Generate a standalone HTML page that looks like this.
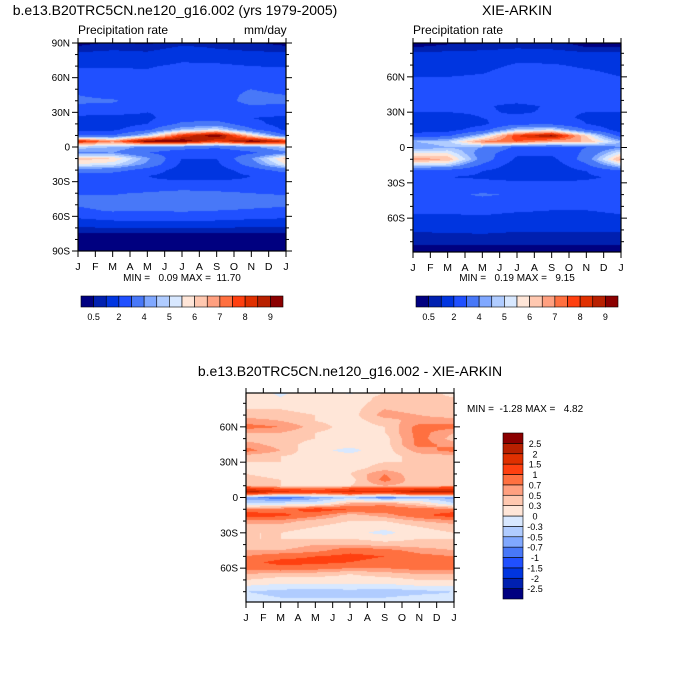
<!DOCTYPE html>
<html><head><meta charset="utf-8">
<style>
body{margin:0;background:#fff;}
#root{position:relative;width:700px;height:700px;overflow:hidden;font-family:"Liberation Sans",sans-serif;color:#000;}
.t{position:absolute;white-space:nowrap;}
canvas{position:absolute;}
svg{position:absolute;left:0;top:0;}
</style></head>
<body>
<div id="root">
<div class="t" style="left:0;width:350px;text-align:center;top:2px;font-size:14px;">b.e13.B20TRC5CN.ne120_g16.002 (yrs 1979-2005)</div>
<div class="t" style="left:78px;top:23px;font-size:12px;">Precipitation rate</div>
<div class="t" style="left:244px;top:23px;font-size:12px;">mm/day</div>
<div class="t" style="left:417px;width:200px;text-align:center;top:2px;font-size:14px;">XIE-ARKIN</div>
<div class="t" style="left:413px;top:23px;font-size:12px;">Precipitation rate</div>
<div class="t" style="left:82px;width:200px;text-align:center;top:273px;font-size:10px;">MIN =&nbsp;&nbsp; 0.09 MAX =&nbsp; 11.70</div>
<div class="t" style="left:417px;width:200px;text-align:center;top:273px;font-size:10px;">MIN =&nbsp;&nbsp; 0.19 MAX =&nbsp;&nbsp; 9.15</div>
<div class="t" style="left:150px;width:400px;text-align:center;top:363px;font-size:14px;">b.e13.B20TRC5CN.ne120_g16.002 - XIE-ARKIN</div>
<div class="t" style="left:467px;top:404px;font-size:10px;">MIN =&nbsp; -1.28 MAX =&nbsp;&nbsp; 4.82</div>
<canvas id="c1" width="208" height="208" style="left:78px;top:43px;"></canvas>
<canvas id="c2" width="208" height="209" style="left:413px;top:43px;"></canvas>
<canvas id="c3" width="208" height="209" style="left:246px;top:393px;"></canvas>
<svg id="ov" width="700" height="700"></svg>
</div>
<script>
// data grids: rows 90N..90S step 5deg; columns Jan, Mar, May, Jul, Sep, Nov, Jan
const months = ['J','F','M','A','M','J','J','A','S','O','N','D','J'];
const colTimes = [0,2,4,6,8,10,12];
const rowLats = [90,85,80,75,70,65,60,55,50,45,40,35,30,25,20,15,10,5,0,-5,-10,-15,-20,-25,-30,-35,-40,-45,-50,-55,-60,-65,-70,-75,-80,-85,-90];
const precipLevels = [0.5,1,2,3,4,4.5,5,5.5,6,6.5,7,7.5,8,8.5,9];
const precipLabels = ['0.5','2','4','5','6','7','8','9'];
const diffLevels = [-2.5,-2,-1.5,-1,-0.7,-0.5,-0.3,0,0.3,0.5,0.7,1,1.5,2,2.5];
const diffLabels = ['-2.5','-2','-1.5','-1','-0.7','-0.5','-0.3','0','0.3','0.5','0.7','1','1.5','2','2.5'];
const palette = ['#000080','#0020b0','#0035e0','#2050ff','#4878f8','#80a8ff','#b0ccff','#d8e8ff','#ffe6d8','#ffc8b0','#ffa080','#ff7040','#ff4010','#e03000','#b82000','#8b0000'];
const modelPrecip = [
[0.3,0.6,0.4,0.8,0.8,0.6,0.3],[0.7,0.9,0.8,1.2,1.0,0.8,0.7],[1.2,1.3,1.2,1.6,1.5,1.3,1.2],[1.5,1.6,1.5,1.9,1.8,1.6,1.5],
[1.9,1.9,1.9,2.2,2.2,2.0,1.9],[2.3,2.2,2.1,2.5,2.5,2.4,2.3],[2.5,2.4,2.3,2.6,2.8,2.7,2.5],[2.6,2.5,2.4,2.7,2.8,2.9,2.6],
[2.7,2.5,2.3,2.5,2.7,3.0,2.7],[3.0,2.7,2.4,2.3,2.6,3.2,3.0],[3.2,3.1,2.6,2.2,2.6,3.3,3.2],[2.8,2.8,2.5,2.2,2.5,2.9,2.8],
[2.3,2.3,2.0,2.3,2.4,2.4,2.3],[1.8,1.6,1.8,2.6,2.5,2.0,1.8],[1.6,1.5,2.0,3.2,3.5,2.3,1.6],[1.8,1.8,2.8,4.6,5.2,3.2,1.8],
[3.0,3.0,4.8,8.0,9.5,6.0,3.0],[8.5,7.0,9.5,9.5,8.0,9.5,8.5],[4.8,4.5,3.8,3.5,3.2,3.8,4.8],[3.8,4.0,3.0,2.4,2.2,2.8,3.8],
[6.2,6.0,4.2,2.0,2.0,4.0,6.2],[5.5,5.2,3.8,1.8,1.8,3.5,5.5],[3.5,3.5,2.5,1.6,1.6,2.4,3.5],[2.3,2.3,2.0,1.7,1.7,2.0,2.3],
[2.2,2.2,2.1,2.1,2.1,2.1,2.2],[2.5,2.4,2.5,2.6,2.6,2.5,2.5],[2.9,2.9,3.1,3.4,3.2,3.0,2.9],[3.2,3.2,3.4,3.8,3.5,3.3,3.2],
[3.1,3.3,3.4,3.5,3.4,3.2,3.1],[2.8,3.1,3.0,3.1,3.0,2.9,2.8],[2.2,2.5,2.6,2.6,2.5,2.3,2.2],[1.6,1.8,1.9,1.9,1.8,1.7,1.6],
[0.9,1.0,1.0,1.0,1.0,0.9,0.9],[0.4,0.4,0.4,0.4,0.4,0.4,0.4],[0.3,0.3,0.3,0.3,0.3,0.3,0.3],[0.3,0.3,0.3,0.3,0.3,0.3,0.3],[0.3,0.3,0.3,0.3,0.3,0.3,0.3]];
const obsPrecip = [
[0.3,0.4,0.4,0.6,0.5,0.3,0.3],[0.5,0.6,0.7,0.9,0.8,0.5,0.5],[1.1,1.2,1.3,1.5,1.4,1.1,1.1],[1.4,1.4,1.5,1.8,1.7,1.5,1.4],
[1.6,1.6,1.7,2.1,2.1,1.8,1.6],[1.8,1.8,1.9,2.3,2.4,2.1,1.8],[2.0,2.0,2.1,2.4,2.6,2.3,2.0],[2.2,2.2,2.2,2.5,2.6,2.5,2.2],
[2.4,2.3,2.2,2.5,2.6,2.6,2.4],[2.6,2.4,2.2,2.4,2.5,2.7,2.6],[2.5,2.3,2.2,2.2,2.4,2.6,2.5],[2.2,2.2,2.1,1.8,2.1,2.2,2.2],
[2.0,2.0,2.1,1.9,2.1,2.0,2.0],[1.6,1.7,2.0,2.2,2.2,1.9,1.6],[1.3,1.3,1.8,2.8,2.8,2.0,1.3],[1.5,1.6,2.6,4.8,5.2,3.0,1.5],
[2.5,2.8,4.8,8.0,9.2,6.0,2.5],[4.5,4.8,7.0,7.5,6.5,6.5,4.5],[4.0,4.5,4.0,2.8,2.6,3.0,4.0],[5.5,5.5,3.5,2.2,2.2,3.2,5.5],
[6.8,6.5,3.6,1.8,1.7,3.5,6.8],[5.0,4.8,2.8,1.5,1.4,2.8,5.0],[2.8,2.5,2.0,1.4,1.4,2.0,2.8],[2.1,2.0,1.9,1.6,1.7,1.9,2.1],
[2.2,2.2,2.2,2.2,2.1,2.1,2.2],[2.4,2.5,2.7,2.6,2.3,2.3,2.4],[2.6,2.8,3.1,2.9,2.5,2.5,2.6],[2.6,2.7,2.8,2.7,2.4,2.5,2.6],
[2.4,2.5,2.5,2.4,2.2,2.2,2.4],[2.1,2.1,2.1,2.0,1.9,1.9,2.1],[1.8,1.8,1.9,1.8,1.7,1.7,1.8],[1.5,1.5,1.6,1.5,1.4,1.4,1.5],
[1.1,1.2,1.2,1.1,1.1,1.1,1.1],[0.8,0.8,0.9,0.8,0.8,0.8,0.8],[0.6,0.6,0.6,0.6,0.6,0.6,0.6],[0.4,0.4,0.4,0.4,0.4,0.4,0.4],[0.3,0.3,0.3,0.3,0.3,0.3,0.3]];
const diffPrecip = [
[0.2,-0.1,0.2,-0.1,0.3,0.4,0.2],[0.3,0.0,0.3,0.1,0.4,0.4,0.3],[0.3,0.2,0.2,0.2,0.4,0.4,0.3],[0.3,0.3,0.2,0.2,0.5,0.4,0.3],
[0.4,0.4,0.3,0.2,0.6,0.5,0.4],[0.6,0.5,0.3,0.2,0.4,0.6,0.6],[0.8,0.7,0.4,0.2,0.3,0.8,0.8],[0.5,0.5,0.3,0.2,0.3,0.8,0.5],
[0.4,0.4,0.3,0.2,0.2,0.8,0.4],[0.6,0.4,0.2,0.1,0.2,0.8,0.6],[0.8,0.5,0.1,-0.1,0.2,0.6,0.8],[0.4,0.3,0.2,0.1,0.2,0.4,0.4],
[0.3,0.3,0.1,0.2,0.3,0.3,0.3],[0.3,0.2,0.1,0.2,0.4,0.3,0.3],[0.3,0.2,0.1,0.3,0.7,0.3,0.3],[0.4,0.3,0.2,0.2,0.8,0.3,0.4],
[0.5,0.3,0.2,0.3,0.5,0.4,0.5],[2.3,1.6,1.3,1.8,1.6,2.2,2.3],[-0.6,-0.9,-0.6,-0.4,-0.8,-0.5,-0.6],[-0.3,-0.2,-0.2,0.5,0.6,0.3,-0.3],
[0.8,0.8,1.2,1.0,0.9,0.8,0.8],[1.2,1.1,0.8,0.4,0.6,0.9,1.2],[0.6,0.6,0.4,0.3,0.3,0.5,0.6],[0.4,0.4,0.3,0.2,0.1,0.3,0.4],
[0.3,0.3,0.2,0.1,-0.1,0.2,0.3],[0.3,0.3,0.3,0.3,0.2,0.3,0.3],[0.4,0.4,0.5,0.5,0.4,0.4,0.4],[0.5,0.5,0.6,0.9,0.8,0.6,0.5],
[0.7,0.9,1.0,1.1,1.0,0.8,0.7],[0.9,1.1,1.1,1.0,0.9,0.9,0.9],[0.8,0.9,0.8,0.7,0.7,0.8,0.8],[0.5,0.4,0.4,0.3,0.4,0.5,0.5],
[0.3,0.2,0.2,0.2,0.2,0.3,0.3],[0.0,-0.1,-0.1,-0.1,-0.1,0.0,0.0],[-0.3,-0.4,-0.5,-0.4,-0.5,-0.4,-0.3],[-0.2,-0.3,-0.3,-0.3,-0.3,-0.2,-0.2],[-0.1,-0.1,-0.1,-0.1,-0.1,-0.1,-0.1]];

const NS='http://www.w3.org/2000/svg';
const ov=document.getElementById('ov');
function sample(grid,lat,t){
  let r=(90-lat)/5; r=Math.max(0,Math.min(rowLats.length-1.0001,r));
  let c=t/2; c=Math.max(0,Math.min(colTimes.length-1.0001,c));
  const r0=Math.floor(r),c0=Math.floor(c),fr=r-r0,fc=c-c0;
  const a=grid[r0][c0],b=grid[r0][c0+1],d=grid[r0+1][c0],e=grid[r0+1][c0+1];
  return (a*(1-fc)+b*fc)*(1-fr)+(d*(1-fc)+e*fc)*fr;
}
function levelIndex(v,levels){let i=0;while(i<levels.length&&v>=levels[i])i++;return i;}
function hex(h){return [parseInt(h.substr(1,2),16),parseInt(h.substr(3,2),16),parseInt(h.substr(5,2),16)];}
const pal=palette.map(hex);
function drawField(id,grid,levels,latTop){
  const cv=document.getElementById(id),ctx=cv.getContext('2d');
  const W=cv.width,H=cv.height,img=ctx.createImageData(W,H);
  for(let y=0;y<H;y++){
    const lat=latTop-(y+0.5)/H*2*latTop;
    for(let x=0;x<W;x++){
      const t=(x+0.5)/W*12;
      const col=pal[levelIndex(sample(grid,lat,t),levels)];
      const k=(y*W+x)*4;img.data[k]=col[0];img.data[k+1]=col[1];img.data[k+2]=col[2];img.data[k+3]=255;
    }
  }
  ctx.putImageData(img,0,0);
}
function el(tag,attrs,parent){const e=document.createElementNS(NS,tag);for(const k in attrs)e.setAttribute(k,attrs[k]);(parent||ov).appendChild(e);return e;}
function txt(s,x,y,anchor,size,name){
  const e=el('text',{x:x,y:y,'text-anchor':anchor,'font-size':size,'font-family':'Liberation Sans, sans-serif'});
  e.textContent=s;
  
  
  return e;
}
function axes(px,py,w,h,latTop,latLabels,prefix){
  const g=el('g',{});
  
  
  const yOf=lat=>py+(latTop-lat)/(2*latTop)*h;
  el('rect',{x:px,y:py,width:w,height:h,fill:'none',stroke:'#000','stroke-width':1.2},g);
  for(let i=0;i<months.length;i++){
    const x=px+i*w/12;
    el('line',{x1:x,y1:py+h,x2:x,y2:py+h+6,stroke:'#000'},g);
    el('line',{x1:x,y1:py,x2:x,y2:py-5,stroke:'#000'},g);
    txt(months[i],x,py+h+19,'middle',10.5,prefix+'-month-label');
  }
  for(let lat=-90;lat<=90;lat+=10){
    if(Math.abs(lat)>latTop+0.01)continue;
    const y=yOf(lat),major=lat%30===0;
    const L=major?6:3;
    el('line',{x1:px-L,y1:y,x2:px,y2:y,stroke:'#000'},g);
    el('line',{x1:px+w,y1:y,x2:px+w+L,y2:y,stroke:'#000'},g);
  }
  latLabels.forEach(function(s){
    const v=s==='0'?0:(parseInt(s)*(s.endsWith('S')?-1:1));
    txt(s,px-8,yOf(v)+3.5,'end',10,prefix+'-lat-label');
  });
}
drawField('c1',modelPrecip,precipLevels,90);
drawField('c2',obsPrecip,precipLevels,88.75);
drawField('c3',diffPrecip,diffLevels,88.75);
axes(78,43,208,208,90,['90N','60N','30N','0','30S','60S','90S'],'model');
axes(413,43,208,209,88.75,['60N','30N','0','30S','60S'],'obs');
axes(246,393,208,209,88.75,['60N','30N','0','30S','60S'],'diff');

function hbar(x0,x1,y0,y1,prefix){
  const n=palette.length,bw=(x1-x0)/n;
  for(let i=0;i<n;i++){
    const r=el('rect',{x:x0+i*bw,y:y0,width:bw,height:y1-y0,fill:palette[i],stroke:'#000','stroke-width':0.6});
    
    
  }
  precipLabels.forEach(function(s,j){
    txt(s,x0+(2*j+1)*bw,y1+13,'middle',9,prefix+'-colorbar-label');
  });
}
hbar(81,283,296,307,'model');
hbar(416,618,296,307,'obs');
(function(){
  const x0=503,x1=523,y0=433,y1=599,n=palette.length,bh=(y1-y0)/n;
  for(let i=0;i<n;i++){
    const r=el('rect',{x:x0,y:y1-(i+1)*bh,width:x1-x0,height:bh,fill:palette[i],stroke:'#000','stroke-width':0.6});
    
    
  }
  diffLabels.forEach(function(s,j){
    txt(s,535,y1-(j+1)*bh+3.5,'middle',9,'diff-colorbar-label');
  });
})();
</script>
</body></html>
